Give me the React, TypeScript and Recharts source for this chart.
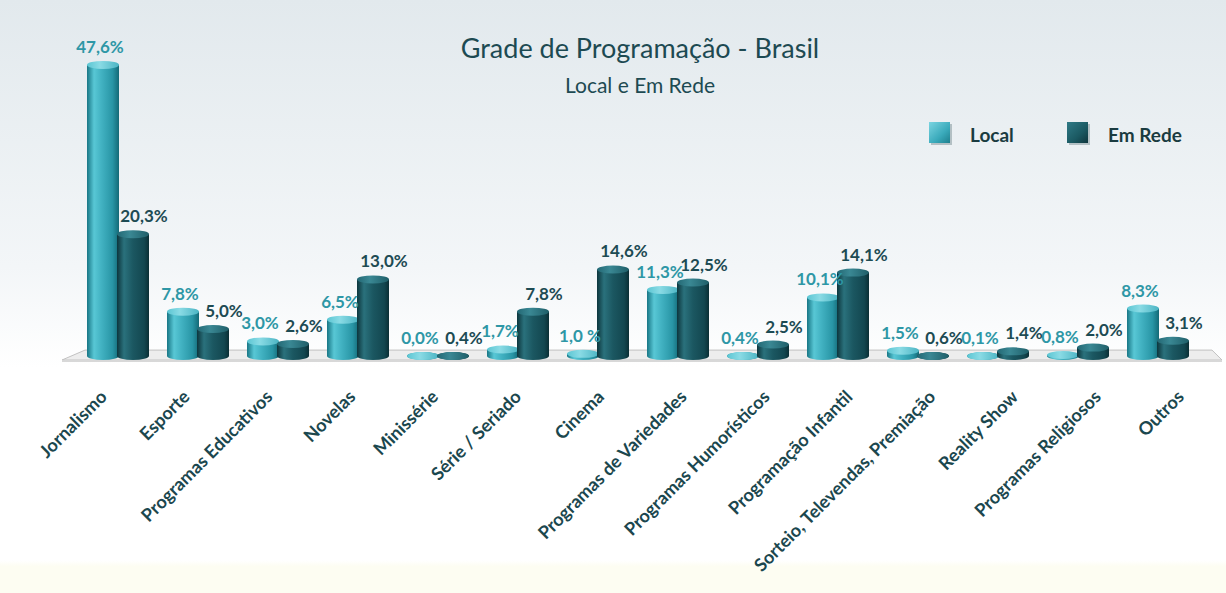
import React from "react";
import { BarChart, Bar, XAxis, YAxis, LabelList, ReferenceArea } from "recharts";

const categories = [
    "Jornalismo",
    "Esporte",
    "Programas Educativos",
    "Novelas",
    "Minissérie",
    "Série / Seriado",
    "Cinema",
    "Programas de Variedades",
    "Programas Humorísticos",
    "Programação Infantil",
    "Sorteio, Televendas, Premiação",
    "Reality Show",
    "Programas Religiosos",
    "Outros",
];
const localValues = [47.6, 7.8, 3.0, 6.5, 0.0, 1.7, 1.0, 11.3, 0.4, 10.1, 1.5, 0.1, 0.8, 8.3];
const redeValues = [20.3, 5.0, 2.6, 13.0, 0.4, 7.8, 14.6, 12.5, 2.5, 14.1, 0.6, 1.4, 2.0, 3.1];
const localLabels = ["47,6%", "7,8%", "3,0%", "6,5%", "0,0%", "1,7%", "1,0 %", "11,3%", "0,4%", "10,1%", "1,5%", "0,1%", "0,8%", "8,3%"];
const redeLabels = ["20,3%", "5,0%", "2,6%", "13,0%", "0,4%", "7,8%", "14,6%", "12,5%", "2,5%", "14,1%", "0,6%", "1,4%", "2,0%", "3,1%"];

const data = categories.map((name, i) => ({ name, local: localValues[i], rede: redeValues[i] }));

const FONT = "Lato, 'Open Sans', sans-serif";
const DARK_TEXT = "#1b474e";
const LOCAL_TEXT = "#2e97a6";
const REDE_TEXT = "#1d4b53";

// cylinder drawn from the bar rect the library gives us
const Cylinder = (props: any) => {
    const { x, y, width, height, kind } = props;
    if (x == null || y == null) return null;
    const rx = width / 2;
    const ry = 4;
    const cx = x + rx;
    const bottom = y + Math.max(height || 0, 0) - 4;
    const top = Math.min(y, bottom);
    const body = kind === "local" ? "url(#bodyLocal)" : "url(#bodyRede)";
    const cap = kind === "local" ? "url(#topLocal)" : "url(#topRede)";
    return (
        <g>
            <ellipse cx={cx} cy={bottom} rx={rx} ry={ry} fill={body} />
            <rect x={x} y={top} width={width} height={bottom - top} fill={body} />
            <ellipse cx={cx} cy={top} rx={rx} ry={ry} fill={cap} />
        </g>
    );
};

const makeLabel = (labels: string[], color: string, dx: number) => (props: any) => {
    const { x, y, width, height, index } = props;
    const top = Math.min(y, y + height - 4);
    return (
        <text
            x={x + width / 2 + dx}
            y={top - 12}
            textAnchor="middle"
            fill={color}
            fontFamily={FONT}
            fontWeight={700}
            fontSize={17}
        >
            {labels[index]}
        </text>
    );
};

const CategoryTick = (props: any) => {
    const { x, y, payload, index } = props;
    const tx = x - 10 + index * 2.85;
    const ty = y + 30;
    return (
        <text
            x={tx}
            y={ty}
            transform={`rotate(-45, ${tx}, ${ty})`}
            textAnchor="end"
            fill={DARK_TEXT}
            fontFamily={FONT}
            fontWeight={700}
            fontSize={18}
        >
            {payload.value}
        </text>
    );
};

const Floor = (props: any) => {
    const { x, y, width, height } = props;
    const pts = [
        [x + 7, y],
        [x + width + 14, y],
        [x + width + 24, y + height],
        [x - 16, y + height],
    ]
        .map((p) => p.join(","))
        .join(" ");
    return (
        <g>
            <polygon points={pts} fill="#ededed" stroke="#c2c2c2" strokeWidth={1} />
            <line x1={x - 16} y1={y + height + 1} x2={x + width + 24} y2={y + height + 1} stroke="#d8d8d8" strokeWidth={2} />
        </g>
    );
};

const LegendSwatch = ({ kind }: { kind: string }) => (
    <svg width={26} height={26} style={{ display: "block" }}>
        <defs>
            <linearGradient id={`sw${kind}`} x1="0" y1="0" x2="1" y2="1">
                <stop offset="0%" stopColor={kind === "local" ? "#7bd5e1" : "#2f7a86"} />
                <stop offset="60%" stopColor={kind === "local" ? "#3aaabb" : "#1b5962"} />
                <stop offset="100%" stopColor={kind === "local" ? "#1d7f8d" : "#0e363d"} />
            </linearGradient>
        </defs>
        <rect x={4} y={3} width={21} height={21} fill="#0d3036" opacity={0.25} />
        <rect x={2} y={1} width={21} height={21} fill={`url(#sw${kind})`} />
    </svg>
);

const legendItems = [
    { kind: "local", label: "Local", left: 927 },
    { kind: "rede", label: "Em Rede", left: 1065 },
];

export default function App() {
    return (
        <div
            style={{
                position: "absolute",
                left: 0,
                top: 0,
                width: 1226,
                height: 593,
                fontFamily: FONT,
                background: "linear-gradient(to bottom, #e2e9ed 0%, #f3f6f8 45%, #ffffff 62%, #ffffff 94.5%, #fdfdf2 95.5%, #fdfdf2 100%)",
            }}
        >
            <div style={{ position: "absolute", left: 0, width: 1280, top: 31, textAlign: "center", fontSize: 27, color: "#1d4a52" }}>
                Grade de Programação - Brasil
            </div>
            <div style={{ position: "absolute", left: 0, width: 1280, top: 72, textAlign: "center", fontSize: 21, color: "#1d4a52" }}>
                Local e Em Rede
            </div>
            {legendItems.map((it) => (
                <div
                    key={it.kind}
                    style={{
                        position: "absolute",
                        left: it.left,
                        top: 121,
                        display: "flex",
                        alignItems: "center",
                        fontWeight: 700,
                        fontSize: 19,
                        color: "#1a3b40",
                    }}
                >
                    <LegendSwatch kind={it.kind} />
                    <span style={{ marginLeft: 17 }}>{it.label}</span>
                </div>
            ))}
            <BarChart
                width={1226}
                height={593}
                data={data}
                margin={{ top: 50, right: 28, bottom: 0, left: 78 }}
                barSize={32}
                barGap={-2}
                style={{ position: "absolute", left: 0, top: 0 }}
            >
                <defs>
                    <linearGradient id="bodyLocal" x1="0" y1="0" x2="1" y2="0">
                        <stop offset="0%" stopColor="#187685" />
                        <stop offset="22%" stopColor="#58c7d5" />
                        <stop offset="45%" stopColor="#42b2c2" />
                        <stop offset="80%" stopColor="#2895a5" />
                        <stop offset="100%" stopColor="#146a77" />
                    </linearGradient>
                    <linearGradient id="topLocal" x1="0" y1="0" x2="1" y2="0">
                        <stop offset="0%" stopColor="#5cc6d3" />
                        <stop offset="40%" stopColor="#8adbe5" />
                        <stop offset="100%" stopColor="#4bb4c3" />
                    </linearGradient>
                    <linearGradient id="bodyRede" x1="0" y1="0" x2="1" y2="0">
                        <stop offset="0%" stopColor="#0d363d" />
                        <stop offset="22%" stopColor="#2a717c" />
                        <stop offset="50%" stopColor="#1b5761" />
                        <stop offset="85%" stopColor="#134750" />
                        <stop offset="100%" stopColor="#0b2f35" />
                    </linearGradient>
                    <linearGradient id="topRede" x1="0" y1="0" x2="1" y2="0">
                        <stop offset="0%" stopColor="#236874" />
                        <stop offset="40%" stopColor="#3a8894" />
                        <stop offset="100%" stopColor="#1f5e68" />
                    </linearGradient>
                </defs>
                <ReferenceArea y1={0} y2={1.6} shape={<Floor />} ifOverflow="visible" />
                <XAxis
                    dataKey="name"
                    interval={0}
                    height={233}
                    axisLine={false}
                    tickLine={false}
                    tick={<CategoryTick />}
                />
                <YAxis hide domain={[0, 50]} />
                <Bar
                    dataKey="local"
                    name="Local"
                    fill="#3aaabb"
                    isAnimationActive={false}
                    shape={(p: any) => <Cylinder {...p} kind="local" />}
                >
                    <LabelList dataKey="local" content={makeLabel(localLabels, LOCAL_TEXT, -3)} />
                </Bar>
                <Bar
                    dataKey="rede"
                    name="Em Rede"
                    fill="#1b5962"
                    isAnimationActive={false}
                    shape={(p: any) => <Cylinder {...p} kind="rede" />}
                >
                    <LabelList dataKey="rede" content={makeLabel(redeLabels, REDE_TEXT, 11)} />
                </Bar>
            </BarChart>
        </div>
    );
}
